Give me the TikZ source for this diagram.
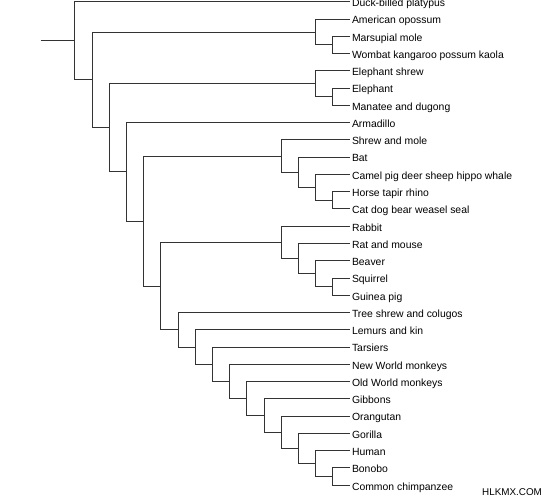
\documentclass[tikz,border=0pt]{standalone}
\usepackage{fontspec}
\setmainfont{Liberation Sans}
\usepackage{tikz}
\tikzset{
	branch/.style={draw=black!80, line width=0.75pt},
	leaf/.style={anchor=west, inner sep=1.2pt, text height=0.72em, text depth=0pt, font=\fontsize{7.8}{9}\selectfont}
}

\begin{document}
\begin{tikzpicture}[x=12.9pt,y=-12.95pt]
\useasboundingbox (-4.36,-0.104) rectangle (27.62,28.85);
\clip (-4.36,-0.104) rectangle (27.62,28.85);
\node [leaf] (platypus) at (16,0) {Duck-billed platypus};
\node [leaf] (opossum) at (16,1) {American opossum};
\node [leaf] (mole) at (16,2) {Marsupial mole};
\node [leaf] (wombat) at (16,3) {Wombat kangaroo possum kaola};
\node [leaf] (eshrew) at (16,4) {Elephant shrew};
\node [leaf] (elephant) at (16,5) {Elephant};
\node [leaf] (manatee) at (16,6) {Manatee and dugong};
\node [leaf] (armadillo) at (16,7) {Armadillo};
\node [leaf] (shrew) at (16,8) {Shrew and mole};
\node [leaf] (bat) at (16,9) {Bat};
\node [leaf] (camel) at (16,10) {Camel pig deer sheep hippo whale};
\node [leaf] (horse) at (16,11) {Horse tapir rhino};
\node [leaf] (cat) at (16,12) {Cat dog bear weasel seal};
\node [leaf] (rabbit) at (16,13) {Rabbit};
\node [leaf] (rat) at (16,14) {Rat and mouse};
\node [leaf] (beaver) at (16,15) {Beaver};
\node [leaf] (squirrel) at (16,16) {Squirrel};
\node [leaf] (guinea) at (16,17) {Guinea pig};
\node [leaf] (treeshrew) at (16,18) {Tree shrew and colugos};
\node [leaf] (lemurs) at (16,19) {Lemurs and kin};
\node [leaf] (tarsiers) at (16,20) {Tarsiers};
\node [leaf] (nwm) at (16,21) {New World monkeys};
\node [leaf] (owm) at (16,22) {Old World monkeys};
\node [leaf] (gibbons) at (16,23) {Gibbons};
\node [leaf] (orangutan) at (16,24) {Orangutan};
\node [leaf] (gorilla) at (16,25) {Gorilla};
\node [leaf] (human) at (16,26) {Human};
\node [leaf] (bonobo) at (16,27) {Bonobo};
\node [leaf] (chimp) at (16,28) {Common chimpanzee};

\coordinate (stub) at (-2,2.2627);
\coordinate (root) at (0,2.2627);
\coordinate (theria) at (1,4.5254);
\coordinate (mars) at (14,1.75);
\coordinate (marsb) at (15,2.5);
\coordinate (placent) at (2,7.3007);
\coordinate (afro) at (14,4.75);
\coordinate (afrob) at (15,5.5);
\coordinate (exafro) at (3,9.8514);
\coordinate (boreo) at (4,12.7029);
\coordinate (laura) at (12,8.9375);
\coordinate (laurab) at (13,9.875);
\coordinate (laurac) at (14,10.75);
\coordinate (laurad) at (15,11.5);
\coordinate (euarch) at (5,16.4683);
\coordinate (glires) at (12,13.9375);
\coordinate (gliresb) at (13,14.875);
\coordinate (gliresc) at (14,15.75);
\coordinate (gliresd) at (15,16.5);
\coordinate (euarchonta) at (6,18.999);
\coordinate (primates) at (7,19.998);
\coordinate (haplo) at (8,20.9961);
\coordinate (anthro) at (9,21.9922);
\coordinate (catarr) at (10,22.9844);
\coordinate (hominoid) at (11,23.9688);
\coordinate (hominid) at (12,24.9375);
\coordinate (hominin) at (13,25.875);
\coordinate (homo) at (14,26.75);
\coordinate (pan) at (15,27.5);

\draw [branch] (stub) -- (root);
\draw [branch] (root) |- (platypus.west);
\draw [branch] (root) |- (theria);
\draw [branch] (theria) |- (mars);
\draw [branch] (mars) |- (opossum.west);
\draw [branch] (mars) |- (marsb);
\draw [branch] (marsb) |- (mole.west);
\draw [branch] (marsb) |- (wombat.west);
\draw [branch] (theria) |- (placent);
\draw [branch] (placent) |- (afro);
\draw [branch] (afro) |- (eshrew.west);
\draw [branch] (afro) |- (afrob);
\draw [branch] (afrob) |- (elephant.west);
\draw [branch] (afrob) |- (manatee.west);
\draw [branch] (placent) |- (exafro);
\draw [branch] (exafro) |- (armadillo.west);
\draw [branch] (exafro) |- (boreo);
\draw [branch] (boreo) |- (laura);
\draw [branch] (laura) |- (shrew.west);
\draw [branch] (laura) |- (laurab);
\draw [branch] (laurab) |- (bat.west);
\draw [branch] (laurab) |- (laurac);
\draw [branch] (laurac) |- (camel.west);
\draw [branch] (laurac) |- (laurad);
\draw [branch] (laurad) |- (horse.west);
\draw [branch] (laurad) |- (cat.west);
\draw [branch] (boreo) |- (euarch);
\draw [branch] (euarch) |- (glires);
\draw [branch] (glires) |- (rabbit.west);
\draw [branch] (glires) |- (gliresb);
\draw [branch] (gliresb) |- (rat.west);
\draw [branch] (gliresb) |- (gliresc);
\draw [branch] (gliresc) |- (beaver.west);
\draw [branch] (gliresc) |- (gliresd);
\draw [branch] (gliresd) |- (squirrel.west);
\draw [branch] (gliresd) |- (guinea.west);
\draw [branch] (euarch) |- (euarchonta);
\draw [branch] (euarchonta) |- (treeshrew.west);
\draw [branch] (euarchonta) |- (primates);
\draw [branch] (primates) |- (lemurs.west);
\draw [branch] (primates) |- (haplo);
\draw [branch] (haplo) |- (tarsiers.west);
\draw [branch] (haplo) |- (anthro);
\draw [branch] (anthro) |- (nwm.west);
\draw [branch] (anthro) |- (catarr);
\draw [branch] (catarr) |- (owm.west);
\draw [branch] (catarr) |- (hominoid);
\draw [branch] (hominoid) |- (gibbons.west);
\draw [branch] (hominoid) |- (hominid);
\draw [branch] (hominid) |- (orangutan.west);
\draw [branch] (hominid) |- (hominin);
\draw [branch] (hominin) |- (gorilla.west);
\draw [branch] (hominin) |- (homo);
\draw [branch] (homo) |- (human.west);
\draw [branch] (homo) |- (pan);
\draw [branch] (pan) |- (bonobo.west);
\draw [branch] (pan) |- (chimp.west);

\node [anchor=west, inner sep=0pt, font=\fontsize{7.4}{9}\selectfont] (mark) at (23.66,28.38) {HLKMX.COM};
\end{tikzpicture}
\end{document}
